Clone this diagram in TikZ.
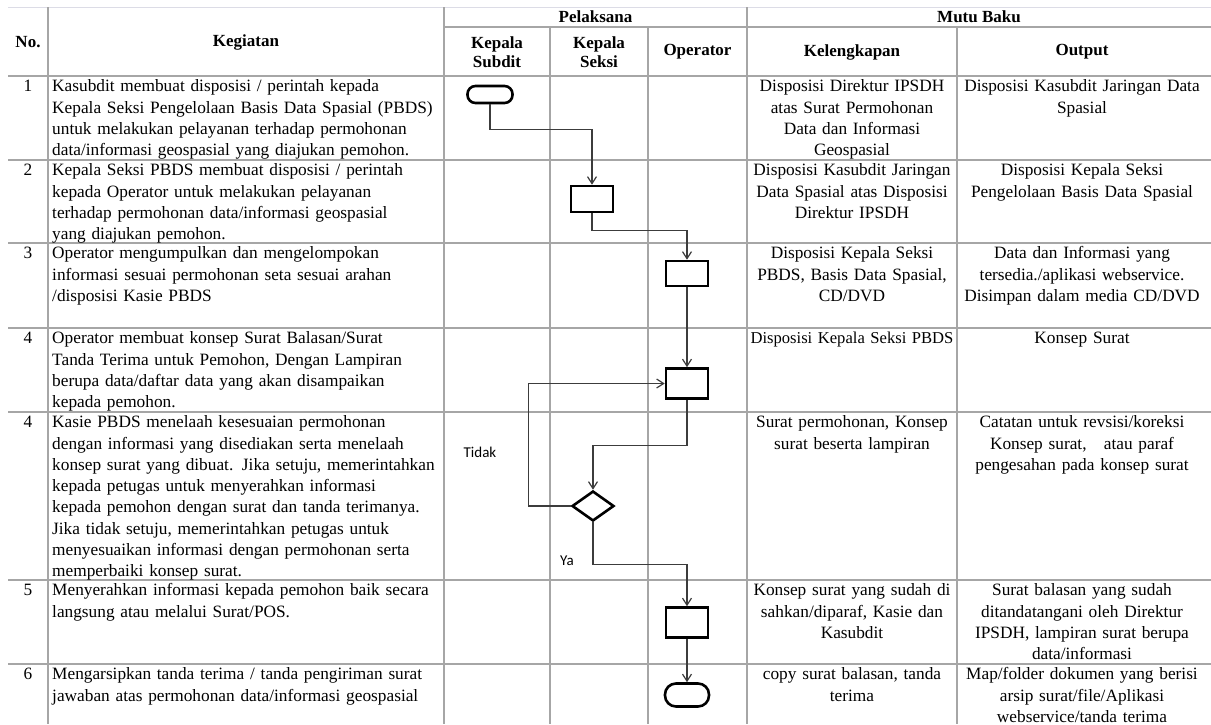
\documentclass[tikz,border=0pt]{standalone}
\usepackage{fontspec}
\setmainfont{Liberation Serif}
\newfontfamily\labelfont{Carlito}
\usetikzlibrary{shapes.geometric,arrows.meta}
\definecolor{rulegray}{HTML}{A6A6A6}
\definecolor{topgray}{HTML}{DCDCE6}
\definecolor{flowgray}{HTML}{3C3C3C}

\begin{document}
\begin{tikzpicture}[x=1pt,y=-1pt,
  gridline/.style={rulegray,line width=1.3pt},
  flow/.style={flowgray,line width=1.2pt,-{Straight Barb[length=7pt,width=9pt]}},
  procbox/.style={draw=black,line width=2.6pt,minimum width=42pt,inner sep=0pt},
  termbox/.style={draw=black,line width=2.6pt,inner sep=0pt},
  decbox/.style={diamond,draw=black,line width=2.6pt,minimum width=42pt,minimum height=30pt,inner sep=0pt},
  celltxt/.style={inner sep=0pt,font=\fontsize{17.3}{21.3}\selectfont},
  kegtxt/.style={celltxt,anchor=north west,text width=390pt,align=left},
  keltxt/.style={celltxt,anchor=north,text width=216pt,align=center},
  outtxt/.style={celltxt,anchor=north,text width=246pt,align=center},
  numtxt/.style={celltxt,anchor=north},
  headtxt/.style={inner sep=0pt,align=center,font=\fontsize{17}{19.5}\selectfont\bfseries},
  yesno/.style={inner sep=0pt,font=\labelfont\fontsize{15}{17}\selectfont}]

\fill[white] (0,0) rectangle (1211,724);
\useasboundingbox (0,0) rectangle (1211,724);

% table rules
\draw[topgray,line width=1pt] (8,7)--(1211,7);
\draw[gridline] (444,27)--(1211,27);
\draw[gridline] (8,76)--(1211,76);
\draw[gridline] (8,160)--(1211,160);
\draw[gridline] (8,243)--(1211,243);
\draw[gridline] (8,328)--(1211,328);
\draw[gridline] (8,412)--(1211,412);
\draw[gridline] (8,580)--(1211,580);
\draw[gridline] (8,664)--(1211,664);
\draw[gridline] (48,7)--(48,724);
\draw[gridline] (444,7)--(444,724);
\draw[gridline] (550,27)--(550,724);
\draw[gridline] (648,27)--(648,724);
\draw[gridline] (747,7)--(747,724);
\draw[gridline] (957,27)--(957,724);

% header
\node[headtxt] (hno) at (28,42) {No.};
\node[headtxt] (hkeg) at (246,42) {Kegiatan};
\node[headtxt] (hpel) at (595.5,17) {Pelaksana};
\node[headtxt] (hmutu) at (979,17) {Mutu Baku};
\node[headtxt] (hsub) at (497,52) {Kepala\\Subdit};
\node[headtxt] (hsek) at (599,52) {Kepala\\Seksi};
\node[headtxt] (hop) at (697.5,52) {Operator};
\node[headtxt] (hkel) at (852,52) {Kelengkapan};
\node[headtxt] (hout) at (1082,52) {Output};

% row 1
\node[numtxt] (n1) at (28,76.6) {\strut 1};
\node[kegtxt] (k1) at (52,76.6) {\strut Kasubdit membuat disposisi / perintah kepada\\Kepala Seksi Pengelolaan Basis Data Spasial (PBDS)\\untuk melakukan pelayanan terhadap permohonan\\data/informasi geospasial yang diajukan pemohon.};
\node[keltxt] (l1) at (852,76.6) {\strut Disposisi Direktur IPSDH\\atas Surat Permohonan\\Data dan Informasi\\Geospasial};
\node[outtxt] (o1) at (1082,76.6) {\strut Disposisi Kasubdit Jaringan Data\\Spasial};

% row 2
\node[numtxt] (n2) at (28,160.6) {\strut 2};
\node[kegtxt] (k2) at (52,160.6) {\strut Kepala Seksi PBDS membuat disposisi / perintah\\kepada Operator untuk melakukan pelayanan\\terhadap permohonan data/informasi geospasial\\yang diajukan pemohon.};
\node[keltxt] (l2) at (852,160.6) {\strut Disposisi Kasubdit Jaringan\\Data Spasial atas Disposisi\\Direktur IPSDH};
\node[outtxt] (o2) at (1082,160.6) {\strut Disposisi Kepala Seksi\\Pengelolaan Basis Data Spasial};

% row 3
\node[numtxt] (n3) at (28,243.6) {\strut 3};
\node[kegtxt] (k3) at (52,243.6) {\strut Operator mengumpulkan dan mengelompokan\\informasi sesuai permohonan seta sesuai arahan\\/disposisi Kasie PBDS};
\node[keltxt] (l3) at (852,243.6) {\strut Disposisi Kepala Seksi\\PBDS, Basis Data Spasial,\\CD/DVD};
\node[outtxt] (o3) at (1082,243.6) {\strut Data dan Informasi yang\\tersedia./aplikasi webservice.\\Disimpan dalam media CD/DVD};

% row 4
\node[numtxt] (n4) at (28,328.6) {\strut 4};
\node[kegtxt] (k4) at (52,328.6) {\strut Operator membuat konsep Surat Balasan/Surat\\Tanda Terima untuk Pemohon, Dengan Lampiran\\berupa data/daftar data yang akan disampaikan\\kepada pemohon.};
\node[keltxt,font=\fontsize{16.6}{21.3}\selectfont] (l4) at (852,328.6) {\strut Disposisi Kepala Seksi PBDS};
\node[outtxt] (o4) at (1082,328.6) {\strut Konsep Surat};

% row 5
\node[numtxt] (n5) at (28,412.6) {\strut 4};
\node[kegtxt] (k5) at (52,412.6) {\strut Kasie PBDS menelaah kesesuaian permohonan\\dengan informasi yang disediakan serta menelaah\\konsep surat yang dibuat. Jika setuju, memerintahkan\\kepada petugas untuk menyerahkan informasi\\kepada pemohon dengan surat dan tanda terimanya.\\Jika tidak setuju, memerintahkan petugas untuk\\menyesuaikan informasi dengan permohonan serta\\memperbaiki konsep surat.};
\node[keltxt] (l5) at (852,412.6) {\strut Surat permohonan, Konsep\\surat beserta lampiran};
\node[outtxt] (o5) at (1082,412.6) {\strut Catatan untuk revsisi/koreksi\\Konsep surat,~~ atau paraf\\pengesahan pada konsep surat};

% row 6
\node[numtxt] (n6) at (28,580.6) {\strut 5};
\node[kegtxt] (k6) at (52,580.6) {\strut Menyerahkan informasi kepada pemohon baik secara\\langsung atau melalui Surat/POS.};
\node[keltxt] (l6) at (852,580.6) {\strut Konsep surat yang sudah di\\sahkan/diparaf, Kasie dan\\Kasubdit};
\node[outtxt] (o6) at (1082,580.6) {\strut Surat balasan yang sudah\\ditandatangani oleh Direktur\\IPSDH, lampiran surat berupa\\data/informasi};

% row 7
\node[numtxt] (n7) at (28,664.6) {\strut 6};
\node[kegtxt] (k7) at (52,664.6) {\strut Mengarsipkan tanda terima / tanda pengiriman surat\\jawaban atas permohonan data/informasi geospasial};
\node[keltxt] (l7) at (852,664.6) {\strut copy surat balasan, tanda\\terima};
\node[outtxt] (o7) at (1082,664.6) {\strut Map/folder dokumen yang berisi\\arsip surat/file/Aplikasi\\webservice/tanda terima};

% flow shapes
\node[termbox,rounded corners=8pt,minimum width=45pt,minimum height=17pt] (start) at (490,94.5) {};
\node[procbox,minimum height=26pt] (b1) at (592,199) {};
\node[procbox,minimum height=25pt] (b2) at (687,273.5) {};
\node[procbox,minimum height=30pt] (b3) at (687,383.5) {};
\node[decbox] (dec) at (593,506) {};
\node[procbox,minimum height=30pt] (b4) at (687,622.5) {};
\node[termbox,rounded corners=11pt,minimum width=44pt,minimum height=23pt] (stop) at (687,695) {};

% connectors
\draw[flow] (start.south) -- ++(0,25) -| (b1.north);
\draw[flow] (b1.south) -- ++(0,17) -| (b2.north);
\draw[flow] (b2.south) -- (b3.north);
\draw[flow] (b3.south) -- ++(0,46) -| (dec.north);
\draw[flow] (dec.west) -- ++(-42,0) |- (b3.west);
\draw[flow] (dec.south) -- ++(0,42) -| (b4.north);
\draw[flow] (b4.south) -- (stop.north);
\node[yesno] (tidak) at (480,452) {Tidak};
\node[yesno] (ya) at (567,561) {Ya};
\end{tikzpicture}
\end{document}
